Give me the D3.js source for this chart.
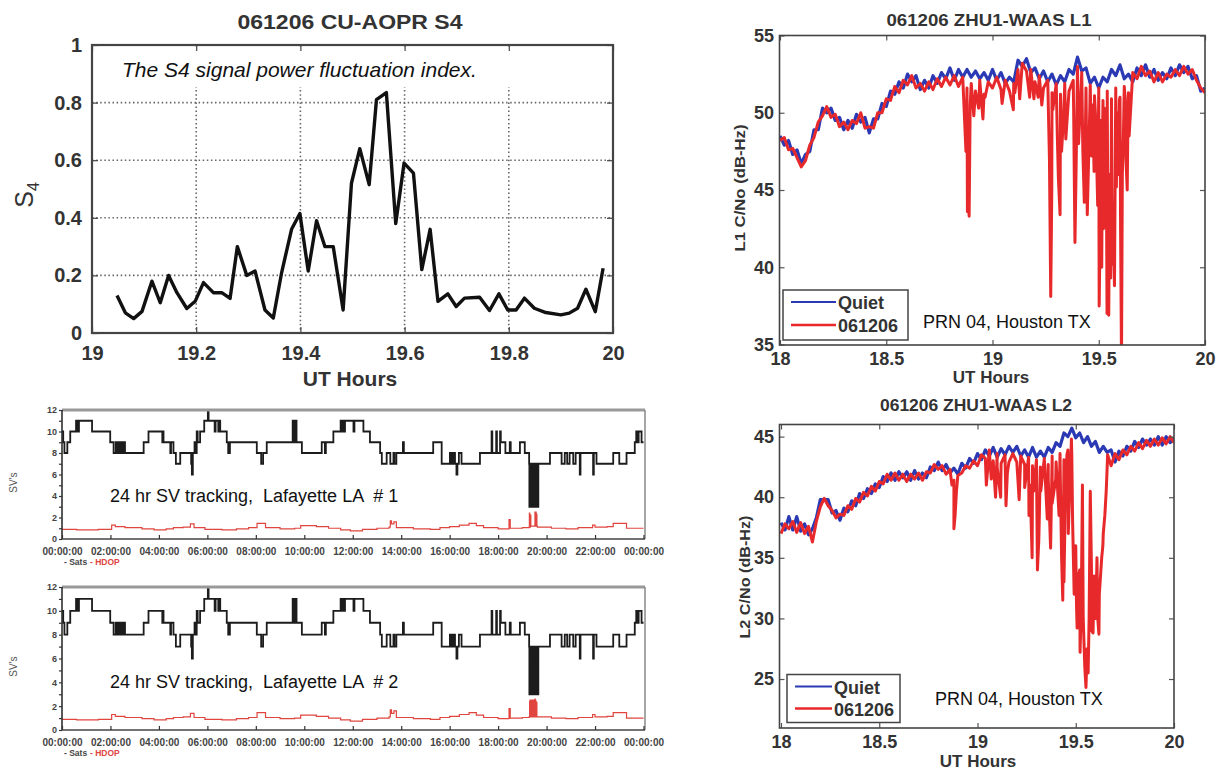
<!DOCTYPE html>
<html>
<head>
<meta charset="utf-8">
<script src="https://cdn.jsdelivr.net/npm/d3@7"></script>
<style>
    body { margin: 0; background: #fff; }
    svg { display: block; font-family: Arial, "Liberation Sans", Helvetica, sans-serif; }
</style>
</head>
<body>
<svg width="1225" height="770"></svg>
<script>
// ---------------- data ----------------

// S4 index, CU-AOPR, 061206
var s4Hours = [19.048, 19.064, 19.080, 19.096, 19.115, 19.131, 19.147, 19.163, 19.182, 19.198,
    19.214, 19.233, 19.249, 19.265, 19.279, 19.297, 19.313, 19.332, 19.348, 19.364,
    19.383, 19.399, 19.415, 19.431, 19.447, 19.463, 19.482, 19.498, 19.514, 19.532,
    19.546, 19.565, 19.583, 19.599, 19.617, 19.633, 19.649, 19.664, 19.683, 19.699,
    19.715, 19.744, 19.763, 19.781, 19.798, 19.814, 19.830, 19.849, 19.871, 19.900,
    19.916, 19.932, 19.948, 19.966, 19.981];
var s4Values = [0.13, 0.07, 0.05, 0.075, 0.18, 0.105, 0.20, 0.14, 0.085, 0.11,
    0.175, 0.14, 0.14, 0.12, 0.30, 0.20, 0.215, 0.08, 0.052, 0.21,
    0.36, 0.415, 0.215, 0.39, 0.30, 0.30, 0.08, 0.52, 0.64, 0.515,
    0.81, 0.835, 0.38, 0.59, 0.555, 0.22, 0.36, 0.11, 0.136, 0.092,
    0.121, 0.124, 0.078, 0.136, 0.08, 0.08, 0.121, 0.086, 0.071, 0.063,
    0.069, 0.086, 0.152, 0.074, 0.225];
var s4XTicks = [19, 19.2, 19.4, 19.6, 19.8, 20];
var s4XLabels = ["19", "19.2", "19.4", "19.6", "19.8", "20"];
var s4YTicks = [0, 0.2, 0.4, 0.6, 0.8, 1];
var s4YLabels = ["0", "0.2", "0.4", "0.6", "0.8", "1"];

// 24 hr SV tracking, Lafayette LA : satellites in view (step changes, [hour, count])
var satsSteps = [[0.00, 10], [0.05, 9], [0.10, 8], [0.22, 9], [0.34, 10], [0.58, 11], [0.61, 10], [0.64, 11], [0.67, 10], [0.70, 11],
    [1.24, 10], [1.99, 9], [2.13, 8], [2.22, 9], [2.27, 8], [2.33, 9], [2.38, 8], [2.45, 9], [2.50, 8], [2.55, 9], [2.60, 8],
    [3.37, 9], [3.57, 10], [4.14, 9], [4.17, 10], [4.19, 9], [4.47, 8], [4.50, 9], [4.60, 8], [4.70, 7], [4.88, 8],
    [5.33, 7], [5.36, 6], [5.40, 8], [5.47, 9], [5.52, 8], [5.56, 10], [5.60, 9], [5.70, 10], [5.87, 11], [6.02, 12], [6.05, 11],
    [6.30, 10], [6.34, 11], [6.45, 10], [6.48, 11], [6.53, 10], [6.80, 9], [6.86, 8], [6.93, 9], [8.04, 8], [8.22, 7], [8.30, 8],
    [8.45, 9], [9.52, 11], [9.58, 9], [9.62, 11], [9.68, 9], [9.90, 8], [10.72, 9], [10.85, 8], [10.89, 9], [11.20, 10],
    [11.50, 11], [11.55, 10], [11.60, 11], [11.64, 10], [11.68, 11], [12.03, 10], [12.07, 11], [12.44, 10], [12.71, 9],
    [13.13, 8], [13.20, 7], [13.40, 8], [13.55, 7], [13.68, 8], [13.72, 7], [13.80, 8], [14.07, 9], [14.11, 8], [15.32, 9],
    [15.67, 7], [16.01, 8], [16.08, 7], [16.15, 8], [16.22, 7], [16.28, 6], [16.32, 7], [16.38, 8], [16.49, 7], [17.25, 8],
    [17.73, 10], [17.76, 8], [17.92, 10], [17.95, 8], [18.08, 10], [18.11, 9], [18.30, 8], [18.48, 9], [18.52, 8], [18.90, 9],
    [19.10, 8], [19.70, 7], [20.14, 8], [20.62, 7], [20.75, 8], [20.85, 7], [20.95, 8], [21.10, 7], [21.20, 8], [21.37, 6],
    [21.40, 8], [21.92, 6], [21.95, 8], [22.06, 7], [22.75, 8], [23.00, 7], [23.30, 8], [23.64, 9], [23.70, 10], [23.75, 9],
    [23.80, 10], [23.92, 9], [24.00, 9]];
// loss of lock during the scintillation, receiver #1 and #2
var sats1Drop = [[19.28, 7], [19.29, 3], [19.30, 7], [19.31, 3], [19.32, 7], [19.33, 3], [19.35, 7], [19.36, 3], [19.38, 7],
    [19.40, 3], [19.43, 7], [19.46, 3], [19.49, 7], [19.52, 3], [19.54, 7], [19.55, 3], [19.56, 7], [19.57, 3], [19.58, 7],
    [19.59, 3], [19.60, 7], [19.61, 3], [19.62, 7], [19.63, 3], [19.64, 7], [19.65, 3], [19.66, 7]];
var sats2Drop = [[19.28, 7], [19.29, 3], [19.30, 7], [19.31, 3], [19.32, 7], [19.33, 3], [19.34, 7], [19.35, 3], [19.36, 7],
    [19.37, 3], [19.38, 7], [19.39, 3], [19.40, 7], [19.41, 3], [19.42, 7], [19.43, 3], [19.44, 7], [19.45, 3], [19.46, 7],
    [19.47, 3], [19.48, 7], [19.49, 3], [19.50, 7], [19.51, 3], [19.52, 7], [19.53, 3], [19.54, 7], [19.55, 3], [19.56, 7],
    [19.57, 3], [19.58, 7], [19.59, 3], [19.60, 7], [19.61, 3], [19.62, 7], [19.63, 3], [19.64, 7], [19.65, 3], [19.66, 7]];
// HDOP ([hour, value])
var hdopSteps = [[0, 0.9], [0.6, 0.85], [1.5, 0.9], [2.05, 1.3], [2.2, 1.15], [2.6, 1.05], [3.3, 0.95], [3.8, 0.85], [4.3, 0.95],
    [4.6, 1.05], [5.0, 1.1], [5.3, 1.4], [5.45, 1.05], [5.9, 0.9], [6.6, 0.85], [7.2, 0.95], [7.7, 1.05], [8.05, 1.45], [8.4, 1.05],
    [9.0, 0.95], [9.6, 1.0], [9.85, 1.25], [10.5, 1.15], [11.0, 1.0], [11.5, 0.85], [11.9, 0.75], [12.4, 0.9], [13.0, 1.0],
    [13.5, 1.1], [13.55, 1.7], [13.6, 1.4], [13.7, 1.6], [13.8, 1.05], [14.5, 0.95], [15.2, 0.9], [15.6, 1.05], [16.0, 1.15],
    [16.4, 1.3], [16.8, 1.45], [17.1, 1.25], [17.4, 1.05], [18.0, 0.95], [18.45, 1.8], [18.5, 1.0], [19.0, 1.05], [19.28, 1.1],
    [19.7, 1.1], [20.2, 1.0], [20.8, 0.95], [21.3, 1.05], [21.9, 1.3], [22.0, 1.1], [22.5, 1.15], [22.75, 1.45], [23.3, 1.0],
    [24, 1.0]];
var hdop1Drop = [[19.29, 2.4], [19.30, 1.2], [19.31, 2.3], [19.32, 1.1], [19.33, 2.2], [19.35, 1.2], [19.52, 2.5], [19.53, 1.3],
    [19.54, 2.4], [19.55, 1.2], [19.56, 2.5], [19.57, 1.3], [19.58, 2.3], [19.60, 1.2], [19.62, 1.1]];
var hdop2Drop = [[19.30, 2.4], [19.31, 1.2], [19.32, 2.5], [19.33, 1.1], [19.34, 2.4], [19.35, 1.2], [19.36, 2.5], [19.37, 1.1],
    [19.38, 2.3], [19.39, 1.2], [19.40, 2.5], [19.41, 1.2], [19.42, 2.4], [19.43, 1.1], [19.44, 2.5], [19.45, 1.2],
    [19.46, 2.4], [19.47, 1.2], [19.48, 2.5], [19.49, 1.1], [19.50, 2.4], [19.51, 1.2], [19.52, 2.6], [19.53, 1.2],
    [19.54, 2.5], [19.55, 1.1], [19.56, 2.4], [19.57, 1.2], [19.58, 2.3], [19.60, 1.1]];
var svHourTicks = [0, 2, 4, 6, 8, 10, 12, 14, 16, 18, 20, 22, 24];
var svHourLabels = ["00:00:00", "02:00:00", "04:00:00", "06:00:00", "08:00:00", "10:00:00", "12:00:00",
    "14:00:00", "16:00:00", "18:00:00", "20:00:00", "22:00:00", "00:00:00"];
var svYTicks = [0, 2, 4, 6, 8, 10, 12];
var svYLabels = ["0", "2", "4", "6", "8", "10", "12"];
var svYMinor = [1, 3, 5, 7, 9, 11];

// C/No, ZHU1-WAAS, PRN 04 : samples every 0.02 h from 18 to 20 UT
var cnoHours = d3.range(101).map(function (i) { return 18 + i * 0.02; });
var l1Quiet = [48.5, 47.9, 48.2, 47.3, 47.6, 46.7, 47.3, 47.5, 48.9, 48.9,
    50.3, 50.0, 50.3, 49.5, 49.7, 48.9, 49.5, 49.0, 49.9, 49.4,
    49.7, 48.7, 49.6, 49.6, 50.6, 50.4, 51.4, 51.2, 52.0, 51.6,
    52.5, 52.0, 52.4, 51.5, 52.1, 51.6, 52.4, 51.9, 52.6, 52.2,
    52.9, 52.1, 52.8, 52.3, 52.8, 52.3, 52.7, 52.2, 52.6, 52.1,
    52.8, 52.1, 52.6, 51.9, 52.3, 52.0, 53.4, 53.0, 53.5, 52.6,
    52.9, 52.2, 52.7, 52.0, 52.5, 51.8, 52.4, 52.0, 52.8, 52.5,
    53.6, 52.7, 52.9, 51.9, 52.3, 51.6, 52.3, 52.0, 52.8, 52.4,
    53.1, 52.2, 52.5, 52.0, 52.9, 52.4, 53.1, 52.3, 52.8, 52.1,
    52.6, 52.2, 52.9, 52.4, 53.1, 52.6, 53.0, 52.2, 52.4, 51.4,
    51.6];
var l1Storm = [48.2, 48.4, 47.6, 47.7, 47.1, 46.5, 46.9, 47.9, 48.4, 49.4,
    49.8, 50.4, 49.7, 49.9, 49.1, 49.4, 48.9, 49.5, 49.3, 50.0,
    49.0, 49.1, 49.0, 50.0, 50.0, 50.9, 50.8, 51.7, 51.3, 52.1,
    51.8, 52.4, 51.6, 51.9, 51.4, 52.0, 51.5, 52.2, 51.7, 52.3,
    51.8, 52.4, 51.7, 52.3, 51.6, 51.9, 51.4, 52.1, 51.2, 52.0,
    51.6, 52.3, 51.5, 52.1, 51.4, 51.9, 52.8, 53.2, 52.7, 52.8,
    52.0, 52.4, 51.6, 52.1, 51.3, 51.9, 51.2, 51.9, 51.4, 52.1,
    53.0, 52.6, 51.6, 51.8, 51.1, 51.6, 50.8, 51.4, 50.9, 51.6,
    51.0, 51.7, 51.3, 52.6, 52.2, 53.0, 52.4, 52.7, 52.0, 52.6,
    52.0, 52.5, 52.3, 52.8, 52.4, 53.0, 52.5, 52.8, 52.1, 51.6,
    51.3];
var l1Dips = [[18.875, 47.5], [18.882, 43.6], [18.886, 46.0], [18.890, 43.3], [18.895, 50.5],
    [18.912, 49.8], [18.935, 50.3], [18.955, 49.6], [18.965, 51.0],
    [19.045, 50.6], [19.098, 50.2], [19.105, 51.3], [19.128, 50.9], [19.175, 51.0], [19.195, 50.9], [19.215, 51.0],
    [19.232, 50.5], [19.268, 47.0], [19.274, 38.1], [19.279, 45.0], [19.284, 50.2],
    [19.305, 48.5], [19.310, 45.8], [19.318, 43.4], [19.325, 47.5], [19.335, 49.8], [19.345, 48.3],
    [19.382, 50.0], [19.388, 41.6], [19.393, 46.0], [19.405, 48.0], [19.413, 50.3],
    [19.425, 47.6], [19.432, 44.2], [19.437, 48.5], [19.446, 43.4], [19.452, 46.8], [19.458, 50.3], [19.466, 47.2],
    [19.472, 50.5], [19.478, 46.2], [19.486, 49.5], [19.495, 44.0], [19.502, 37.5], [19.506, 42.0], [19.510, 49.5],
    [19.514, 40.0], [19.517, 47.8], [19.523, 42.5], [19.526, 50.3], [19.530, 44.0], [19.535, 49.0], [19.539, 37.0],
    [19.543, 41.5], [19.547, 36.9], [19.551, 46.0], [19.556, 39.3], [19.562, 44.5], [19.565, 40.2], [19.569, 42.0],
    [19.574, 38.8], [19.578, 47.5], [19.583, 45.2], [19.587, 50.0], [19.592, 46.0], [19.597, 50.8], [19.603, 42.0],
    [19.607, 34.0], [19.611, 46.0], [19.616, 48.5], [19.624, 51.0], [19.628, 47.0], [19.634, 45.0], [19.638, 50.5],
    [19.643, 48.5]];
var l2Quiet = [37.9, 37.3, 38.4, 37.3, 38.4, 37.2, 37.8, 36.9, 37.4, 38.3,
    39.8, 39.8, 39.8, 38.7, 38.9, 38.1, 39.1, 38.8, 39.7, 39.3,
    40.3, 39.9, 40.7, 40.3, 41.1, 40.8, 41.7, 41.3, 42.0, 41.4,
    42.1, 41.6, 42.1, 41.4, 42.2, 41.5, 42.0, 41.6, 42.5, 42.2,
    42.9, 42.2, 42.7, 42.0, 42.4, 41.9, 42.8, 42.4, 43.2, 42.8,
    43.6, 43.1, 43.9, 43.4, 44.1, 43.3, 44.0, 43.5, 44.2, 43.7,
    44.2, 43.4, 43.9, 43.3, 44.1, 43.3, 43.8, 43.3, 44.1, 43.7,
    44.5, 44.2, 45.3, 45.0, 45.7, 44.9, 45.3, 44.5, 45.0, 44.2,
    44.6, 43.7, 44.2, 43.7, 43.9, 42.9, 43.8, 43.4, 44.2, 43.8,
    44.6, 44.1, 44.8, 44.3, 44.8, 44.3, 45.0, 44.3, 45.0, 44.5,
    44.9];
var l2Storm = [37.0, 37.8, 37.4, 38.0, 37.1, 37.9, 37.0, 37.6, 36.3, 38.0,
    39.2, 39.9, 39.3, 38.9, 38.3, 38.6, 38.5, 39.3, 39.0, 39.9,
    39.6, 40.4, 40.1, 40.9, 40.5, 41.3, 41.1, 41.9, 41.4, 42.0,
    41.4, 41.9, 41.3, 41.9, 41.5, 42.0, 41.4, 42.1, 42.0, 42.7,
    42.3, 42.6, 41.9, 42.3, 41.4, 41.8, 42.0, 42.6, 42.4, 43.0,
    42.6, 43.5, 43.2, 43.9, 43.0, 43.6, 42.8, 43.5, 42.9, 43.6,
    42.9, 43.4, 42.7, 43.3, 42.6, 43.1, 42.5, 43.2, 42.7, 43.4,
    42.9, 43.6, 43.1, 43.9, 43.4, 36.0, 34.0, 29.0, 27.0, 34.0,
    30.0, 32.0, 37.0, 42.5, 42.6, 43.6, 43.1, 43.9, 43.5, 44.2,
    43.8, 44.5, 44.0, 44.7, 44.2, 44.8, 44.3, 44.9, 44.4, 45.0,
    44.5];
var l2Dips = [[18.870, 41.0], [18.880, 37.4], [18.886, 38.5], [18.893, 40.5], [19.045, 41.0], [19.070, 41.5],
    [19.092, 40.0], [19.100, 42.5], [19.118, 40.0], [19.145, 39.3], [19.152, 42.0], [19.212, 39.8], [19.218, 42.5],
    [19.240, 40.8], [19.262, 38.5], [19.268, 41.0], [19.278, 35.0], [19.286, 40.5], [19.305, 34.0], [19.312, 36.5],
    [19.322, 40.5], [19.355, 38.2], [19.360, 41.5], [19.372, 35.8], [19.380, 39.5], [19.398, 41.5], [19.415, 38.5],
    [19.422, 41.0], [19.428, 35.0], [19.434, 31.5], [19.440, 33.0], [19.446, 39.0], [19.455, 43.5], [19.462, 37.0],
    [19.468, 40.0], [19.478, 44.8], [19.484, 38.0], [19.492, 32.0], [19.504, 31.0], [19.507, 29.2], [19.514, 33.5],
    [19.522, 27.2], [19.528, 31.0], [19.534, 41.0], [19.538, 30.0], [19.546, 26.0], [19.552, 24.3], [19.558, 27.5],
    [19.563, 25.5], [19.568, 30.0], [19.574, 40.5], [19.580, 29.0], [19.588, 28.8], [19.594, 33.5], [19.604, 31.5],
    [19.608, 35.0], [19.612, 30.0], [19.618, 28.7], [19.624, 33.0], [19.632, 35.0], [19.638, 36.0], [19.648, 38.5],
    [19.655, 40.5], [19.662, 43.5]];
var cnoXTicks = [18, 18.5, 19, 19.5, 20];
var cnoXLabels = ["18", "18.5", "19", "19.5", "20"];
var l1YTicks = [35, 40, 45, 50, 55];
var l1YLabels = ["35", "40", "45", "50", "55"];
var l2YTicks = [25, 30, 35, 40, 45];
var l2YLabels = ["25", "30", "35", "40", "45"];

var quietColor = "#2b3ab4";
var stormColor = "#e8292b";

var svg = d3.select("svg");

// style an axis group: drop the domain path, set text and tick look
function styleAxis(g, size, weight, fill, tickColor) {
    g.select(".domain").remove();
    g.selectAll(".tick line").attr("stroke", tickColor).attr("stroke-width", 1.2);
    g.selectAll(".tick text")
        .attr("font-family", "Arial, 'Liberation Sans', sans-serif")
        .attr("font-size", size)
        .attr("font-weight", weight)
        .attr("fill", fill);
}

/*
    Panel 1 : S4 index
*/
var s4Box = { left: 92, right: 613, top: 45, bottom: 333 };
var xS4 = d3.scaleLinear().domain([19, 20]).range([s4Box.left, s4Box.right]);
var yS4 = d3.scaleLinear().domain([0, 1]).range([s4Box.bottom, s4Box.top]);
var gS4 = svg.append("g");

// dotted grid
gS4.append("g").selectAll("line")
    .data(s4XTicks.slice(1, -1))
    .enter().append("line")
    .attr("x1", function (d) { return xS4(d); })
    .attr("x2", function (d) { return xS4(d); })
    .attr("y1", s4Box.top)
    .attr("y2", s4Box.bottom)
    .attr("stroke", "#666")
    .attr("stroke-width", 1.6)
    .attr("stroke-dasharray", "1.5,2.6");
gS4.append("g").selectAll("line")
    .data(s4YTicks.slice(1, -1))
    .enter().append("line")
    .attr("y1", function (d) { return yS4(d); })
    .attr("y2", function (d) { return yS4(d); })
    .attr("x1", s4Box.left)
    .attr("x2", s4Box.right)
    .attr("stroke", "#666")
    .attr("stroke-width", 1.6)
    .attr("stroke-dasharray", "1.5,2.6");

// white box behind the note
gS4.append("rect")
    .attr("x", s4Box.left + 2)
    .attr("y", s4Box.top + 2)
    .attr("width", s4Box.right - s4Box.left - 4)
    .attr("height", 40)
    .attr("fill", "#fff");
gS4.append("text")
    .attr("x", 122)
    .attr("y", 77)
    .attr("font-size", 21)
    .attr("font-style", "italic")
    .attr("fill", "#111")
    .text("The S4 signal power fluctuation index.");

// S4 line
gS4.append("path")
    .datum(s4Hours.map(function (h, i) { return [h, s4Values[i]]; }))
    .attr("fill", "none")
    .attr("stroke", "#111")
    .attr("stroke-width", 3.4)
    .attr("stroke-linejoin", "round")
    .attr("d", d3.line()
        .x(function (d) { return xS4(d[0]); })
        .y(function (d) { return yS4(d[1]); }));

// axes (ticks inside, like MATLAB)
gS4.append("g")
    .attr("transform", "translate(0," + s4Box.bottom + ")")
    .call(d3.axisBottom(xS4).tickValues(s4XTicks).tickSizeInner(-6).tickSizeOuter(0).tickPadding(13)
        .tickFormat(function (d, i) { return s4XLabels[i]; }))
    .call(styleAxis, 20, "bold", "#333", "#444");
gS4.append("g")
    .attr("transform", "translate(" + s4Box.left + ",0)")
    .call(d3.axisLeft(yS4).tickValues(s4YTicks).tickSizeInner(-6).tickSizeOuter(0).tickPadding(10)
        .tickFormat(function (d, i) { return s4YLabels[i]; }))
    .call(styleAxis, 20, "bold", "#333", "#444");
gS4.append("g")
    .attr("transform", "translate(0," + s4Box.top + ")")
    .call(d3.axisTop(xS4).tickValues(s4XTicks).tickSizeInner(-6).tickSizeOuter(0).tickFormat(""))
    .call(styleAxis, 1, "normal", "none", "#444");
gS4.append("g")
    .attr("transform", "translate(" + s4Box.right + ",0)")
    .call(d3.axisRight(yS4).tickValues(s4YTicks).tickSizeInner(-6).tickSizeOuter(0).tickFormat(""))
    .call(styleAxis, 1, "normal", "none", "#444");

gS4.append("rect")
    .attr("x", s4Box.left)
    .attr("y", s4Box.top)
    .attr("width", s4Box.right - s4Box.left)
    .attr("height", s4Box.bottom - s4Box.top)
    .attr("fill", "none")
    .attr("stroke", "#444")
    .attr("stroke-width", 2.2);

gS4.append("text")
    .attr("x", 350)
    .attr("y", 29)
    .attr("text-anchor", "middle")
    .attr("font-size", 21)
    .attr("font-weight", "bold")
    .attr("fill", "#333")
    .attr("textLength", 225)
    .attr("lengthAdjust", "spacingAndGlyphs")
    .text("061206 CU-AOPR S4");
gS4.append("text")
    .attr("x", 350)
    .attr("y", 386)
    .attr("text-anchor", "middle")
    .attr("font-size", 21)
    .attr("font-weight", "bold")
    .attr("fill", "#333")
    .text("UT Hours");
var s4Label = gS4.append("text")
    .attr("transform", "translate(33,195) rotate(-90)")
    .attr("text-anchor", "middle")
    .attr("font-size", 25)
    .attr("fill", "#333");
s4Label.append("tspan").text("S");
s4Label.append("tspan").attr("font-size", 16).attr("dy", 6).text("4");

/*
    Panels 2 and 3 : 24 hr SV tracking
*/
function drawSV(top, bottom, satsDrop, hdopDrop, label) {
    var left = 62, right = 645;
    var x = d3.scaleLinear().domain([0, 24]).range([left, 643.5]);
    var y = d3.scaleLinear().domain([0, 12]).range([bottom, top]);
    var g = svg.append("g");

    var byHour = function (a, b) { return a[0] - b[0]; };
    var sats = satsSteps.concat(satsDrop).sort(byHour);
    var hdop = hdopSteps.concat(hdopDrop).sort(byHour);
    var step = d3.line()
        .x(function (d) { return x(d[0]); })
        .y(function (d) { return y(d[1]); })
        .curve(d3.curveStepAfter);

    g.append("path")
        .datum(hdop)
        .attr("fill", "none")
        .attr("stroke", "#e0453f")
        .attr("stroke-width", 1.2)
        .attr("d", step);
    g.append("path")
        .datum(sats)
        .attr("fill", "none")
        .attr("stroke", "#1c1c1c")
        .attr("stroke-width", 1.8)
        .attr("d", step);

    // frame: grey top and right, black left and bottom
    g.append("line").attr("x1", left).attr("x2", right).attr("y1", top).attr("y2", top)
        .attr("stroke", "#999").attr("stroke-width", 3);
    g.append("line").attr("x1", right).attr("x2", right).attr("y1", top).attr("y2", bottom)
        .attr("stroke", "#888").attr("stroke-width", 1.5);
    g.append("line").attr("x1", left).attr("x2", left).attr("y1", top).attr("y2", bottom)
        .attr("stroke", "#222").attr("stroke-width", 1.5);
    g.append("line").attr("x1", left).attr("x2", right).attr("y1", bottom).attr("y2", bottom)
        .attr("stroke", "#444").attr("stroke-width", 1.5);

    g.append("g")
        .attr("transform", "translate(0," + bottom + ")")
        .call(d3.axisBottom(x).tickValues(svHourTicks).tickSizeInner(-4).tickSizeOuter(0).tickPadding(9)
            .tickFormat(function (d, i) { return svHourLabels[i]; }))
        .call(styleAxis, 10, "bold", "#444", "#333");
    g.append("g")
        .attr("transform", "translate(" + left + ",0)")
        .call(d3.axisLeft(y).tickValues(svYTicks).tickSizeInner(3).tickSizeOuter(0).tickPadding(2)
            .tickFormat(function (d, i) { return svYLabels[i]; }))
        .call(styleAxis, 9, "bold", "#444", "#333");
    g.append("g")
        .attr("transform", "translate(" + left + ",0)")
        .call(d3.axisLeft(y).tickValues(svYMinor).tickSizeInner(3).tickSizeOuter(0).tickFormat(""))
        .call(styleAxis, 1, "normal", "none", "#333");

    g.append("text")
        .attr("transform", "translate(17," + ((top + bottom) / 2 + 8) + ") rotate(-90)")
        .attr("text-anchor", "middle")
        .attr("font-size", 10)
        .attr("fill", "#555")
        .text("SV's");
    g.append("text")
        .attr("x", 110)
        .attr("y", y(4) + 6)
        .attr("font-size", 18)
        .attr("fill", "#111")
        .style("white-space", "pre")
        .text(label);

    // legend under the axis
    g.append("text")
        .attr("x", 64)
        .attr("y", bottom + 26)
        .attr("font-size", 8.5)
        .attr("font-weight", "bold")
        .attr("fill", "#444")
        .text("- Sats");
    g.append("text")
        .attr("x", 90)
        .attr("y", bottom + 26)
        .attr("font-size", 8.5)
        .attr("font-weight", "bold")
        .attr("fill", "#e0453f")
        .text("- HDOP");
}

drawSV(410, 539, sats1Drop, hdop1Drop, "24 hr SV tracking,  Lafayette LA  # 1");
drawSV(587, 730, sats2Drop, hdop2Drop, "24 hr SV tracking,  Lafayette LA  # 2");

/*
    Panels 4 and 5 : C/No at L1 and L2
*/
function drawCno(id, box, xRange, yDomain, yTicks, yLabels, quiet, storm, dips, texts) {
    var x = d3.scaleLinear().domain([18, 20]).range(xRange);
    var y = d3.scaleLinear().domain(yDomain).range([box.bottom - 0.5, box.top]);
    var g = svg.append("g");

    g.append("clipPath").attr("id", id)
        .append("rect")
        .attr("x", box.left).attr("y", box.top)
        .attr("width", box.right - box.left).attr("height", box.bottom - box.top);

    var line = d3.line()
        .x(function (d) { return x(d[0]); })
        .y(function (d) { return y(d[1]); });
    var quietPts = cnoHours.map(function (h, i) { return [h, quiet[i]]; });
    var stormPts = cnoHours.map(function (h, i) { return [h, storm[i]]; })
        .concat(dips)
        .sort(function (a, b) { return a[0] - b[0]; });

    var plot = g.append("g").attr("clip-path", "url(#" + id + ")");
    plot.append("path")
        .datum(quietPts)
        .attr("fill", "none")
        .attr("stroke", quietColor)
        .attr("stroke-width", 3.2)
        .attr("stroke-linejoin", "round")
        .attr("d", line);
    plot.append("path")
        .datum(stormPts)
        .attr("fill", "none")
        .attr("stroke", stormColor)
        .attr("stroke-width", 3)
        .attr("stroke-linejoin", "round")
        .attr("d", line);

    g.append("g")
        .attr("transform", "translate(0," + box.bottom + ")")
        .call(d3.axisBottom(x).tickValues(cnoXTicks).tickSizeInner(-5).tickSizeOuter(0).tickPadding(7)
            .tickFormat(function (d, i) { return cnoXLabels[i]; }))
        .call(styleAxis, 18, "bold", "#333", "#555");
    g.append("g")
        .attr("transform", "translate(" + box.left + ",0)")
        .call(d3.axisLeft(y).tickValues(yTicks).tickSizeInner(-5).tickSizeOuter(0).tickPadding(5.5)
            .tickFormat(function (d, i) { return yLabels[i]; }))
        .call(styleAxis, 18, "bold", "#333", "#555");
    g.append("g")
        .attr("transform", "translate(0," + box.top + ")")
        .call(d3.axisTop(x).tickValues(cnoXTicks).tickSizeInner(-5).tickSizeOuter(0).tickFormat(""))
        .call(styleAxis, 1, "normal", "none", "#555");
    g.append("g")
        .attr("transform", "translate(" + box.right + ",0)")
        .call(d3.axisRight(y).tickValues(yTicks).tickSizeInner(-5).tickSizeOuter(0).tickFormat(""))
        .call(styleAxis, 1, "normal", "none", "#555");

    g.append("rect")
        .attr("x", box.left)
        .attr("y", box.top)
        .attr("width", box.right - box.left)
        .attr("height", box.bottom - box.top)
        .attr("fill", "none")
        .attr("stroke", "#444")
        .attr("stroke-width", 1.6);

    // title, axis labels
    g.append("text")
        .attr("x", texts.titleX)
        .attr("y", texts.titleY)
        .attr("text-anchor", "middle")
        .attr("font-size", 16)
        .attr("font-weight", "bold")
        .attr("fill", "#333")
        .attr("textLength", texts.titleLen)
        .attr("lengthAdjust", "spacingAndGlyphs")
        .text(texts.title);
    g.append("text")
        .attr("x", texts.titleX + 2)
        .attr("y", texts.xLabelY)
        .attr("text-anchor", "middle")
        .attr("font-size", 17)
        .attr("font-weight", "bold")
        .attr("fill", "#333")
        .text("UT Hours");
    g.append("text")
        .attr("transform", "translate(" + texts.yLabelX + "," + texts.yLabelY + ") rotate(-90)")
        .attr("text-anchor", "middle")
        .attr("font-size", 15)
        .attr("font-weight", "bold")
        .attr("fill", "#333")
        .attr("textLength", texts.yLabelLen)
        .attr("lengthAdjust", "spacingAndGlyphs")
        .text(texts.yLabel);

    // legend
    var lg = texts.legend;
    g.append("rect")
        .attr("x", lg.x)
        .attr("y", lg.y)
        .attr("width", lg.w)
        .attr("height", lg.h)
        .attr("fill", "#fff")
        .attr("stroke", "#444")
        .attr("stroke-width", 1.5);
    var entries = [{ name: "Quiet", color: quietColor, w: 2 }, { name: "061206", color: stormColor, w: 2.6 }];
    var item = g.selectAll(".legend-" + id)
        .data(entries)
        .enter().append("g")
        .attr("transform", function (d, i) { return "translate(" + lg.x + "," + (lg.y + lg.row0 + i * lg.step) + ")"; });
    item.append("line")
        .attr("x1", 8)
        .attr("x2", lg.lineEnd)
        .attr("stroke", function (d) { return d.color; })
        .attr("stroke-width", function (d) { return d.w; });
    item.append("text")
        .attr("x", lg.lineEnd + 2)
        .attr("y", 7)
        .attr("font-size", 18)
        .attr("font-weight", "bold")
        .attr("fill", "#333")
        .text(function (d) { return d.name; });

    g.append("text")
        .attr("x", texts.noteX)
        .attr("y", texts.noteY)
        .attr("font-size", 18)
        .attr("fill", "#111")
        .text("PRN 04, Houston TX");
}

drawCno("clipL1", { left: 779.5, right: 1205, top: 35.5, bottom: 345 }, [780, 1205], [35, 55],
    l1YTicks, l1YLabels, l1Quiet, l1Storm, l1Dips,
    {
        title: "061206 ZHU1-WAAS L1", titleX: 989, titleY: 26, titleLen: 205, xLabelY: 383,
        yLabel: "L1 C/No (dB-Hz)", yLabelX: 745, yLabelY: 188, yLabelLen: 127,
        legend: { x: 783, y: 290, w: 125, h: 50, row0: 12, step: 23, lineEnd: 53 },
        noteX: 923, noteY: 328
    });
drawCno("clipL2", { left: 779.5, right: 1174, top: 424.5, bottom: 728 }, [781, 1174], [21, 46],
    l2YTicks, l2YLabels, l2Quiet, l2Storm, l2Dips,
    {
        title: "061206 ZHU1-WAAS L2", titleX: 976, titleY: 411, titleLen: 192, xLabelY: 767,
        yLabel: "L2 C/No (dB-Hz)", yLabelX: 750, yLabelY: 577, yLabelLen: 123,
        legend: { x: 787, y: 674.5, w: 113, h: 48, row0: 12, step: 22, lineEnd: 45 },
        noteX: 935, noteY: 705
    });
</script>
</body>
</html>
